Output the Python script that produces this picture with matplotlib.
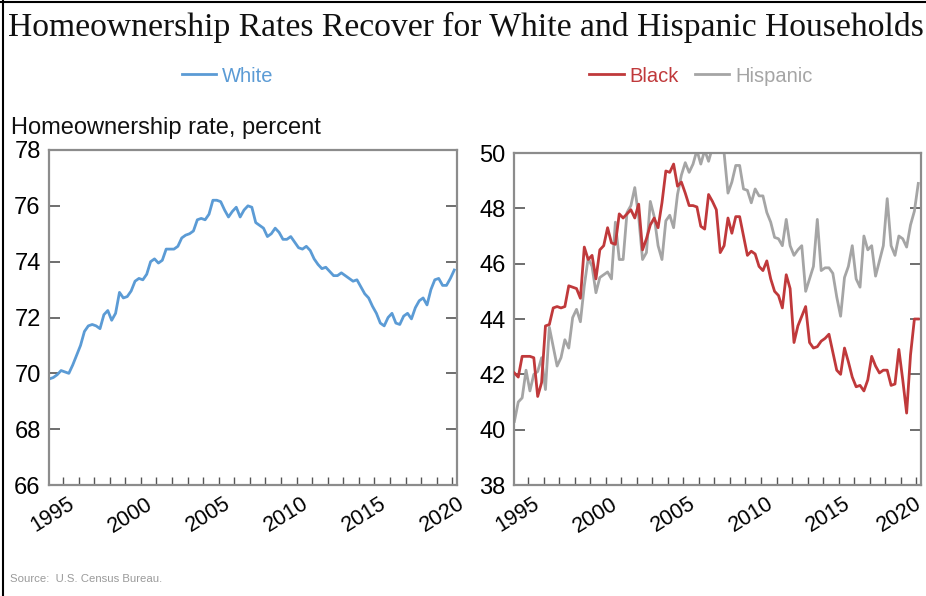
import numpy as np
import matplotlib
matplotlib.use("Agg")
import matplotlib.pyplot as plt
from matplotlib.lines import Line2D
import matplotlib.transforms as mtransforms

# ---------------- data (quarterly, 1994Q1 - 2020Q1) ----------------
start_year = 1994
white = [69.8, 69.85, 69.95, 70.1, 70.05, 70.0, 70.3, 70.65, 71.0, 71.5,
         71.7, 71.75, 71.7, 71.6, 72.1, 72.25, 71.9, 72.15, 72.9, 72.7,
         72.75, 72.95, 73.3, 73.4, 73.35, 73.55, 74.0, 74.1, 73.95, 74.05,
         74.45, 74.45, 74.45, 74.55, 74.85, 74.95, 75.0, 75.1, 75.5, 75.55,
         75.5, 75.7, 76.2, 76.2, 76.15, 75.85, 75.6, 75.8, 75.95, 75.6,
         75.85, 76.0, 75.95, 75.4, 75.3, 75.2, 74.9, 75.0, 75.2, 75.05,
         74.8, 74.8, 74.9, 74.7, 74.5, 74.45, 74.55, 74.4, 74.1, 73.9,
         73.75, 73.8, 73.65, 73.5, 73.5, 73.6, 73.5, 73.4, 73.3, 73.35,
         73.1, 72.85, 72.7, 72.4, 72.15, 71.8, 71.7, 72.0, 72.15, 71.8,
         71.75, 72.05, 72.15, 71.95, 72.35, 72.6, 72.7, 72.45, 73.0, 73.35,
         73.4, 73.15, 73.15, 73.4, 73.7]
black = [42.05, 41.9, 42.65, 42.65, 42.65, 42.6, 41.2, 41.7, 43.75, 43.8,
         44.4, 44.45, 44.4, 44.45, 45.2, 45.15, 45.1, 44.75, 46.6, 46.15,
         46.3, 45.45, 46.5, 46.65, 47.3, 46.75, 46.7, 47.8, 47.65, 47.8,
         47.95, 47.65, 48.15, 46.5, 46.9, 47.4, 47.65, 47.3, 48.2, 49.35,
         49.3, 49.6, 48.8, 48.95, 48.55, 48.1, 48.1, 48.05, 47.35, 47.25,
         48.5, 48.25, 47.95, 46.4, 46.65, 47.65, 47.1, 47.7, 47.7, 47.0,
         46.3, 46.45, 46.35, 45.9, 45.75, 46.1, 45.45, 45.0, 44.85, 44.4,
         45.6, 45.1, 43.15, 43.75, 44.1, 44.45, 43.15, 42.95, 43.0, 43.2,
         43.3, 43.45, 42.8, 42.15, 42.0, 42.95, 42.45, 41.9, 41.55, 41.6,
         41.4, 41.8, 42.65, 42.3, 42.05, 42.15, 42.15, 41.6, 41.65, 42.9,
         41.8, 40.6, 42.7, 44.0, 44.0]
hispanic = [40.3, 41.0, 41.15, 42.15, 41.4, 42.0, 42.1, 42.6, 41.45, 43.7,
            43.0, 42.3, 42.6, 43.25, 42.95, 44.05, 44.35, 43.9, 45.2, 46.2,
            45.9, 44.95, 45.5, 45.6, 45.7, 45.45, 47.5, 46.15, 46.15, 47.85,
            48.1, 48.75, 47.7, 46.15, 46.4, 48.25, 47.7, 46.65, 46.15, 47.55,
            47.75, 47.3, 48.5, 49.2, 49.65, 49.3, 49.6, 50.1, 49.6, 50.1,
            49.7, 50.2, 50.2, 50.1, 50.0, 48.55, 48.95, 49.55, 49.55, 48.7,
            48.65, 48.2, 48.7, 48.45, 48.45, 47.85, 47.5, 46.95, 46.9, 46.65,
            47.6, 46.65, 46.3, 46.5, 46.65, 45.0, 45.45, 45.9, 47.6, 45.75,
            45.85, 45.85, 45.65, 44.8, 44.1, 45.5, 45.9, 46.65, 45.45, 45.15,
            47.0, 46.5, 46.65, 45.55, 46.1, 46.65, 48.35, 46.65, 46.3, 47.0,
            46.9, 46.6, 47.4, 47.9, 48.9]
year_labels = [1995, 2000, 2005, 2010, 2015, 2020]
left_yticks = [66, 68, 70, 72, 74, 76, 78]
right_yticks = [38, 40, 42, 44, 46, 48, 50]

# ---------------- styling ----------------
W, H = 926, 596
C_WHITE = "#5b9bd5"
C_BLACK = "#c0393b"
C_HISP = "#a5a5a5"
SPINE = "#8c8c8c"
SANS = ["Liberation Sans", "DejaVu Sans"]
plt.rcParams["font.family"] = SANS

n = len(white)
t = start_year + 0.125 + 0.25 * np.arange(n)

fig = plt.figure(figsize=(W / 100, H / 100), dpi=100)


def rect(x0, y0, x1, y1):
    return [x0 / W, 1 - y1 / H, (x1 - x0) / W, (y1 - y0) / H]


def style(ax, ylim, yticks, last_shift=-10):
    ax.set_xlim(1994.1, 2020.3)
    ax.set_ylim(*ylim)
    ax.set_yticks(yticks)
    ax.set_xticks(year_labels)
    ax.set_xticks(np.arange(1995, 2021), minor=True)
    for s in ax.spines.values():
        s.set_color(SPINE)
        s.set_linewidth(1.6)
    ax.tick_params(axis="y", which="both", direction="in", left=True, right=True,
                   length=8, width=1.2, color="#555555", labelsize=17, pad=6)
    ax.tick_params(axis="x", which="both", direction="in", bottom=True, top=False,
                   length=6, width=1.0, color="#555555", labelsize=15.5, pad=6)
    labels = ax.get_xticklabels()
    for k, lab in enumerate(labels):
        shift = last_shift if k == len(labels) - 1 else -10
        off = mtransforms.ScaledTranslation(shift / 100, 0, fig.dpi_scale_trans)
        lab.set_rotation(32)
        lab.set_ha("center")
        lab.set_va("top")
        lab.set_transform(lab.get_transform() + off)


ax1 = fig.add_axes(rect(49, 150, 457, 485))
l_white, = ax1.plot(t, white, color=C_WHITE, lw=2.0, label="White")
style(ax1, (66, 78), left_yticks)

ax2 = fig.add_axes(rect(514, 153, 921, 485))
l_black, = ax2.plot(t, black, color=C_BLACK, lw=2.0, label="Black")
l_hisp, = ax2.plot(t, hispanic, color=C_HISP, lw=2.0, label="Hispanic")
l_black.set_zorder(3)
style(ax2, (38, 50), right_yticks, last_shift=-17)

# legends
fig.legend(handles=[l_white], loc="center", bbox_to_anchor=(228 / W, 1 - 76 / H),
           frameon=False, labelcolor="linecolor", fontsize=14.5, handlelength=1.7,
           handletextpad=0.3, borderpad=0)
fig.legend(handles=[l_black, l_hisp], loc="center", bbox_to_anchor=(701 / W, 1 - 76 / H),
           ncol=2, frameon=False, labelcolor="linecolor", fontsize=14.5, handlelength=1.7,
           handletextpad=0.3, columnspacing=0.8, borderpad=0)

# texts
fig.text(8 / W, 1 - 27 / H, "Homeownership Rates Recover for White and Hispanic Households",
         family=["Liberation Serif", "DejaVu Serif"], fontsize=24.2, va="center", ha="left",
         color="#111111")
fig.text(11 / W, 1 - 128 / H, "Homeownership rate, percent", fontsize=17, va="center",
         ha="left", color="#111111")
fig.text(10 / W, 1 - 579 / H, "Source:  U.S. Census Bureau.", fontsize=8.2, va="center",
         ha="left", color="#9a9a9a")

# image frame (left and top edges)
fig.add_artist(Line2D([3 / W, 3 / W], [0, 1], color="black", lw=1.5,
                      transform=fig.transFigure))
fig.add_artist(Line2D([0, 1], [1 - 2 / H, 1 - 2 / H], color="black", lw=1.5,
                      transform=fig.transFigure))

fig.savefig("out.png", dpi=100)
